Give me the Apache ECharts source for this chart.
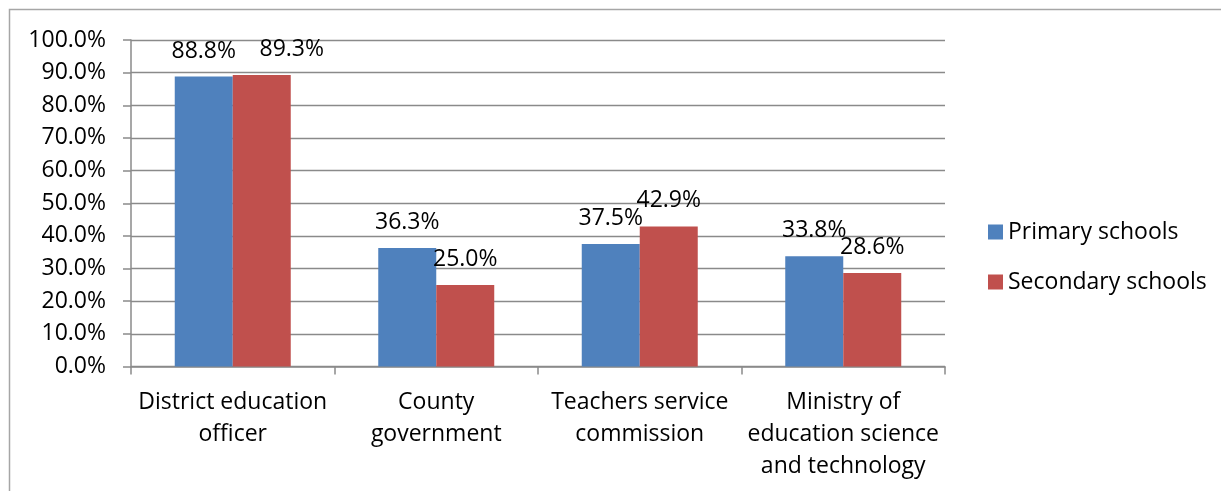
<!DOCTYPE html>
<html>
<head>
<meta charset="utf-8">
<script src="https://cdn.jsdelivr.net/npm/echarts@6/dist/echarts.min.js"></script>
<style>
  html, body { margin: 0; padding: 0; background: #ffffff; }
  #chart { width: 1221px; height: 491px; }
</style>
</head>
<body>
<div id="chart"></div>
<script>
// Bodies responsible for school matters, share of respondents (%)
const categories = [
  'District education\nofficer',
  'County\ngovernment',
  'Teachers service\ncommission',
  'Ministry of\neducation science\nand technology'
];
const primarySchools = [88.8, 36.3, 37.5, 33.8];
const secondarySchools = [89.3, 25.0, 42.9, 28.6];
const seriesNames = ['Primary schools', 'Secondary schools'];

const FONT = '"Open Sans", "Noto Sans", sans-serif';
const FONT_SIZE = 23;
const GRID_GREY = '#8a8a8a';

const chart = echarts.init(document.getElementById('chart'), null, { renderer: 'canvas' });

const pctLabel = {
  show: true,
  position: 'top',
  distance: 14,
  color: '#000',
  fontFamily: FONT,
  fontSize: FONT_SIZE,
  formatter: p => p.value.toFixed(1) + '%'
};

// The first secondary-school label is nudged right so it clears its neighbour
const secondaryData = secondarySchools.map((v, i) =>
  i === 0 ? { value: v, label: { offset: [30, 0] } } : v
);

chart.setOption({
  animation: false,
  backgroundColor: '#ffffff',
  textStyle: { fontFamily: FONT },
  graphic: [{
    type: 'rect',
    shape: { x: 9.5, y: 9.5, width: 1240, height: 520 },
    style: { fill: 'none', stroke: '#a6a6a6', lineWidth: 1.5 },
    silent: true
  }],
  grid: { left: 131, right: 276, top: 40, bottom: 124.5, containLabel: false },
  legend: {
    orient: 'vertical',
    left: 983,
    top: 212,
    icon: 'rect',
    itemWidth: 15,
    itemHeight: 15,
    itemGap: 20,
    textStyle: { color: '#000', fontFamily: FONT, fontSize: FONT_SIZE, lineHeight: 30 },
    data: seriesNames
  },
  xAxis: {
    type: 'category',
    data: categories,
    axisLine: { lineStyle: { color: GRID_GREY, width: 1.5 } },
    axisTick: { show: true, length: 8, alignWithLabel: false, lineStyle: { color: GRID_GREY, width: 1.5 } },
    axisLabel: {
      color: '#000', fontFamily: FONT, fontSize: FONT_SIZE, lineHeight: 32,
      margin: 20, interval: 0
    }
  },
  yAxis: {
    type: 'value',
    min: 0,
    max: 100,
    interval: 10,
    axisLine: { show: true, lineStyle: { color: GRID_GREY, width: 1.5 } },
    axisTick: { show: true, length: 8, lineStyle: { color: GRID_GREY, width: 1.5 } },
    splitLine: { show: true, lineStyle: { color: GRID_GREY, width: 1.3 } },
    axisLabel: {
      color: '#000', fontFamily: FONT, fontSize: FONT_SIZE, margin: 25,
      formatter: v => v.toFixed(1) + '%'
    }
  },
  series: [
    {
      name: seriesNames[0],
      type: 'bar',
      data: primarySchools,
      barGap: '0%',
      barCategoryGap: '43%',
      itemStyle: { color: '#4f81bd' },
      label: pctLabel
    },
    {
      name: seriesNames[1],
      type: 'bar',
      data: secondaryData,
      barGap: '0%',
      barCategoryGap: '43%',
      itemStyle: { color: '#c0504d' },
      label: pctLabel
    }
  ]
});
</script>
</body>
</html>
